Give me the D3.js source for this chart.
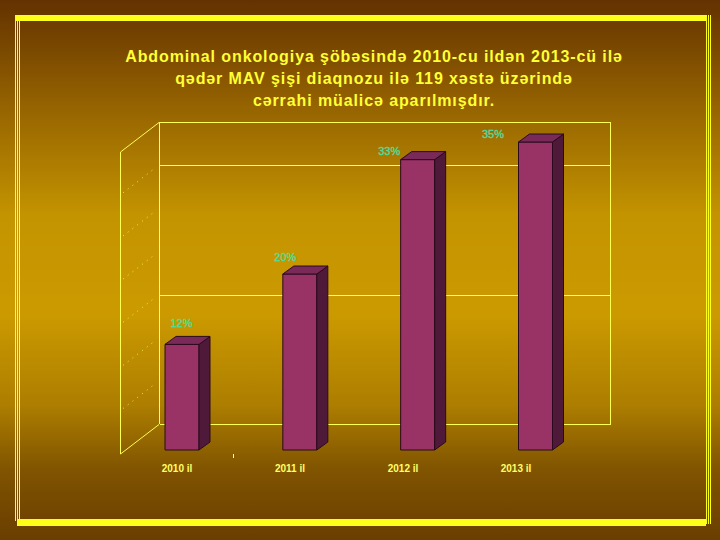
<!DOCTYPE html>
<html>
<head>
	<meta charset="utf-8">
	<title>MAV şişi</title>
	<script src="https://d3js.org/d3.v7.min.js"></script>
	<style>
		body { margin: 0; }
		text { font-family: "Liberation Sans", Arial, sans-serif; }
	</style>
</head>
<body>
	<div class="chart"></div>

	<script type="text/javascript">
		const width = 720
		const height = 540

		// data
		const categories = ['2010 il', '2011 il', '2012 il', '2013 il']
		const values = [12, 20, 33, 35]
		const valueLabels = ['12%', '20%', '33%', '35%']
		const gridValues = [15, 30]
		const minorGridValues = [5, 10, 15, 20, 25, 30]
		const titleLines = [
			'Abdominal onkologiya şöbəsində 2010-cu ildən 2013-cü ilə',
			'qədər MAV şişi diaqnozu ilə 119 xəstə üzərində',
			'cərrahi müalicə aparılmışdır.'
		]

		// 3D offsets
		const depth = { dx: 39, dy: -30 }      // side wall depth
		const barDepth = { dx: 11, dy: -8 }    // column depth
		const barWidth = 34

		const svg = d3.select('.chart').append('svg')
			.attr('width', width)
			.attr('height', height)

		// background gradient
		const defs = svg.append('defs')
		const grad = defs.append('linearGradient')
			.attr('id', 'bg')
			.attr('x1', 0).attr('y1', 0).attr('x2', 0).attr('y2', 1)
		const stops = [
			[0, '#633200'], [0.2, '#966400'], [0.4, '#c49400'], [0.58, '#cc9a00'],
			[0.75, '#ad7e00'], [0.87, '#805400'], [1, '#6a3e00']
		]
		grad.selectAll('stop').data(stops).join('stop')
			.attr('offset', d => d[0])
			.attr('stop-color', d => d[1])

		svg.append('rect')
			.attr('width', width).attr('height', height)
			.attr('fill', 'url(#bg)')

		// frame
		const frame = svg.append('g').attr('fill', '#ffff1a')
		frame.append('rect').attr('x', 15).attr('y', 15).attr('width', 691).attr('height', 6)
		frame.append('rect').attr('x', 17).attr('y', 519).attr('width', 689).attr('height', 7)
		;[15.5, 17.5, 19.5].forEach(x => {
			frame.append('rect').attr('x', x - 0.5).attr('y', 15).attr('width', 1).attr('height', 506)
		})
		;[706.5, 708.5, 710.5].forEach(x => {
			frame.append('rect').attr('x', x - 0.5).attr('y', 15).attr('width', 1).attr('height', 509)
		})

		// title
		svg.append('g')
			.selectAll('text')
			.data(titleLines)
			.join('text')
			.attr('x', 374)
			.attr('y', (d, i) => 62 + i * 22)
			.attr('text-anchor', 'middle')
			.attr('font-size', 16)
			.attr('letter-spacing', 0.9)
			.attr('font-weight', 'bold')
			.attr('fill', '#ffff33')
			.text(d => d)

		// scales
		const backLeft = 159, backRight = 610
		const wallY = d3.scaleLinear([0, 35], [424, 122])        // back wall plane
		const barY = d3.scaleLinear([0, 35], [450, 142])         // column front plane
		const labelY = d3.scaleLinear([0, 35], [425.4, 138.4])   // data label plane
		const barX = d3.scalePoint(categories, [182, 535.5])
		const catX = d3.scalePoint(categories, [177, 516])
		const labelX = d3.scalePoint(categories, [181.5, 493])

		// walls
		const wall = svg.append('g')
			.attr('stroke', '#ffff55')
			.attr('stroke-width', 1)
			.attr('fill', 'none')
			.attr('shape-rendering', 'crispEdges')

		const wallTop = wallY(35), wallFloor = wallY(0)
		const frontX = backLeft - depth.dx

		// back wall outline
		wall.append('path')
			.attr('d', `M${backLeft + 0.5},${wallFloor}V${wallTop + 0.5}H${backRight + 0.5}V${wallFloor + 0.5}H${backLeft + 0.5}`)
		// back wall gridlines
		wall.selectAll('.grid')
			.data(gridValues)
			.join('line')
			.attr('x1', backLeft).attr('x2', backRight)
			.attr('y1', d => Math.round(wallY(d)) + 0.5)
			.attr('y2', d => Math.round(wallY(d)) + 0.5)

		// side wall
		const side = svg.append('g')
			.attr('stroke', '#ffff55')
			.attr('fill', 'none')
		side.append('path')
			.attr('d', `M${backLeft},${wallTop + 0.5}L${frontX + 0.5},${wallTop - depth.dy}V${wallFloor - depth.dy}L${backLeft},${wallFloor + 0.5}`)
		side.selectAll('.minor')
			.data(minorGridValues)
			.join('line')
			.attr('x1', frontX + 3).attr('x2', backLeft - 3)
			.attr('y1', d => wallY(d) - depth.dy * (1 - 3 / depth.dx))
			.attr('y2', d => wallY(d) - depth.dy * (3 / depth.dx))
			.attr('stroke-dasharray', '1,5')
			.attr('stroke-opacity', 0.8)

		// small tick on the floor edge
		svg.append('line')
			.attr('x1', 233.5).attr('x2', 233.5)
			.attr('y1', wallFloor - depth.dy).attr('y2', wallFloor - depth.dy + 4)
			.attr('stroke', '#ffff88')

		// columns
		const barData = categories.map((c, i) => ({ c, v: values[i], label: valueLabels[i] }))
		const bars = svg.append('g')
			.attr('stroke', '#2a0a1c')
			.attr('stroke-width', 1)
			.attr('stroke-linejoin', 'round')
			.selectAll('g')
			.data(barData)
			.join('g')

		const x0 = d => barX(d.c) - barWidth / 2
		const x1 = d => barX(d.c) + barWidth / 2

		bars.append('rect')
			.attr('x', d => x0(d))
			.attr('y', d => barY(d.v))
			.attr('width', barWidth)
			.attr('height', d => barY(0) - barY(d.v))
			.attr('fill', '#993366')

		bars.append('path')
			.attr('fill', '#4f1a3a')
			.attr('d', d => {
				const yt = barY(d.v), yb = barY(0)
				return `M${x1(d)},${yt}l${barDepth.dx},${barDepth.dy}V${yb + barDepth.dy}L${x1(d)},${yb}Z`
			})

		bars.append('path')
			.attr('fill', '#7a2a58')
			.attr('d', d => {
				const yt = barY(d.v)
				return `M${x0(d)},${yt}l${barDepth.dx},${barDepth.dy}H${x1(d) + barDepth.dx}L${x1(d)},${yt}Z`
			})

		// value labels
		svg.append('g')
			.selectAll('text')
			.data(barData)
			.join('text')
			.attr('x', d => labelX(d.c))
			.attr('y', d => labelY(d.v))
			.attr('text-anchor', 'middle')
			.attr('font-size', 11)
			.attr('fill', '#44e0a0')
			.attr('stroke', '#44e0a0')
			.attr('stroke-width', 0.3)
			.text(d => d.label)

		// category labels
		svg.append('g')
			.selectAll('text')
			.data(categories)
			.join('text')
			.attr('x', d => catX(d))
			.attr('y', 472)
			.attr('text-anchor', 'middle')
			.attr('font-size', 10)
			.attr('font-weight', 'bold')
			.attr('fill', '#ffff66')
			.text(d => d)
	</script>
</body>
</html>
